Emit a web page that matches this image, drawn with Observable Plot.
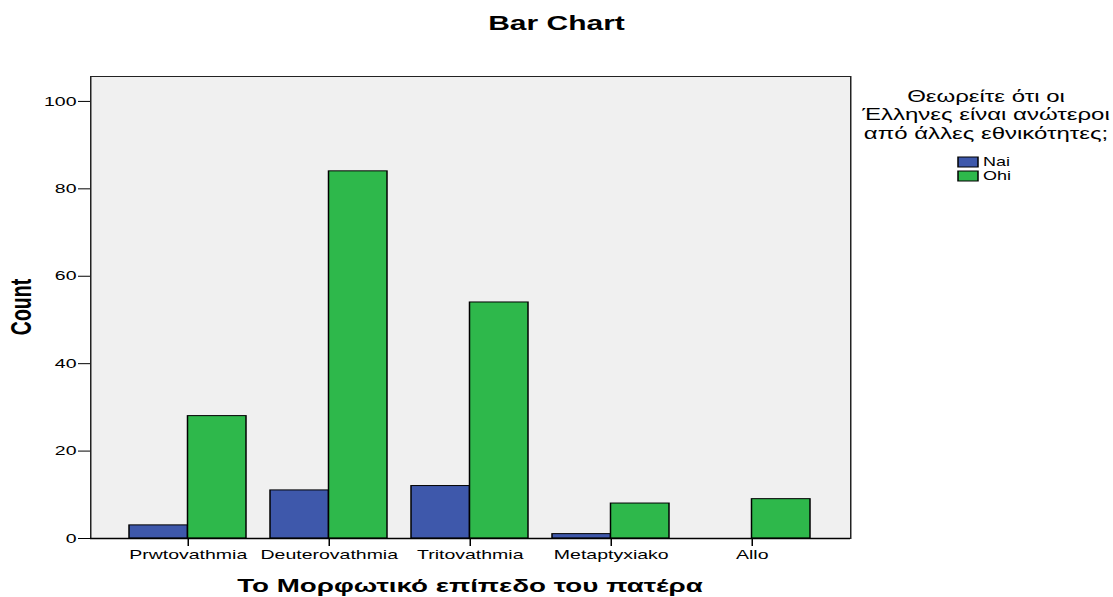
<!DOCTYPE html>
<html><head><meta charset="utf-8">
<script src="https://cdn.jsdelivr.net/npm/d3@7"></script>
<script src="https://cdn.jsdelivr.net/npm/@observablehq/plot@0.6"></script>
<style>body{margin:0;background:#fff} #chart svg{display:block}</style>
</head><body><div id="chart"></div>
<script>
const categories = ["Prwtovathmia", "Deuterovathmia", "Tritovathmia", "Metaptyxiako", "Allo"];
const seriesNames = ["Nai", "Ohi"];
const naiCounts = [3, 11, 12, 1, 0];
const ohiCounts = [28, 84, 54, 8, 9];
const yTicks = [0, 20, 40, 60, 80, 100];
const seriesColors = ["#3e58ab", "#2eb84b"];
const titleText = "Bar Chart";
const xLabel = "Το Μορφωτικό επίπεδο του πατέρα";
const yLabel = "Count";
const legendTitle = ["Θεωρείτε ότι οι", "Έλληνες είναι ανώτεροι", "από άλλες εθνικότητες;"];

const W = 1113, H = 597, SX = 1.5, VW = W / SX;
const rows = categories.flatMap((c, i) => [
  {cat: c, series: seriesNames[0], count: naiCounts[i]},
  {cat: c, series: seriesNames[1], count: ohiCounts[i]}
]);

const base = {
  width: VW, height: H,
  marginLeft: 90 / SX, marginRight: VW - 850 / SX, marginTop: 76, marginBottom: 59,
  style: {fontFamily: "'Liberation Sans', Arial, sans-serif", fontSize: "13px", color: "#000", background: "#fff"},
  x: {domain: categories, paddingInner: 0.173, paddingOuter: 0.272, tickSize: 8, tickPadding: 3, label: null},
  y: {domain: [0, 105.7], ticks: yTicks, tickSize: 8, tickPadding: 1.5, label: null},
  color: {domain: seriesNames, range: seriesColors}
};
const probe = Plot.plot({...base, marks: [Plot.barY(rows, {x: "cat", y: "count"})]});
const half = probe.scale("x").bandwidth / 2;

const chart = Plot.plot({...base, marks: [
  Plot.frame({fill: "#f0f0f0"}),
  Plot.barY(rows.filter(d => d.series === seriesNames[0]), {x: "cat", y: "count", fill: "series", stroke: "#000", strokeWidth: 1, insetRight: half}),
  Plot.barY(rows.filter(d => d.series === seriesNames[1]), {x: "cat", y: "count", fill: "series", stroke: "#000", strokeWidth: 1, insetLeft: half}),
  Plot.frame({stroke: "#222", strokeWidth: 1}),
  Plot.ruleY([0], {stroke: "#000", strokeWidth: 1.5})
]});

chart.setAttribute("width", W);
chart.setAttribute("preserveAspectRatio", "none");
chart.style.width = W + "px";
chart.style.height = H + "px";
chart.style.maxWidth = "none";

const svg = d3.select(chart);
svg.append("text").attr("x", W / 2 / SX).attr("y", 30).attr("text-anchor", "middle")
  .attr("font-weight", "bold").attr("font-size", 20).attr("fill", "#000").text(titleText);
svg.append("text").attr("x", (90 + 850) / 2 / SX).attr("y", 592).attr("text-anchor", "middle")
  .attr("font-weight", "bold").attr("font-size", 18.5).attr("fill", "#000").text(xLabel);
svg.append("text").attr("transform", `translate(${21 / SX},307) rotate(-90)`).attr("dy", "0.35em")
  .attr("text-anchor", "middle").attr("font-weight", "bold").attr("font-size", 19.5).attr("fill", "#000").text(yLabel);
const lg = svg.append("g");
legendTitle.forEach((t, i) => {
  lg.append("text").attr("x", 986 / SX).attr("y", 102 + i * 18.5).attr("text-anchor", "middle")
    .attr("font-size", 16).attr("fill", "#000").text(t);
});
seriesNames.forEach((s, i) => {
  lg.append("rect").attr("x", 958 / SX).attr("y", 157 + i * 14).attr("width", 20 / SX).attr("height", 10)
    .attr("fill", seriesColors[i]).attr("stroke", "#000").attr("stroke-width", 1);
  lg.append("text").attr("x", 983 / SX).attr("y", 166.5 + i * 14).attr("text-anchor", "start")
    .attr("font-size", 12).attr("fill", "#000").text(s);
});
document.getElementById("chart").appendChild(chart);
</script></body></html>
